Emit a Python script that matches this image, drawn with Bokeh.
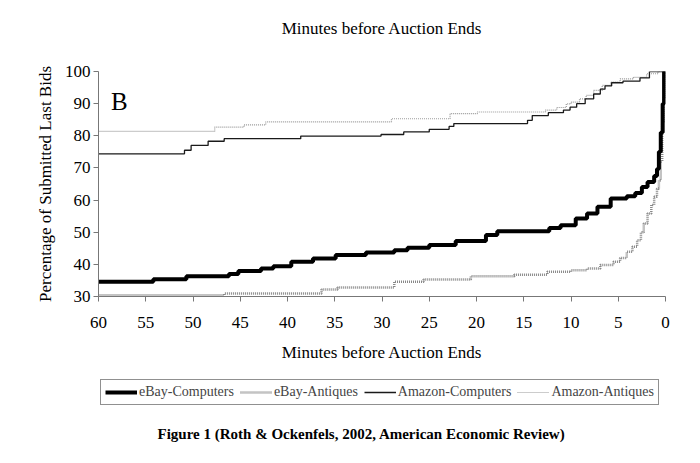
from bokeh.plotting import figure
from bokeh.models import Range1d, Legend, LegendItem, Label, FixedTicker, LinearAxis
from bokeh.layouts import column
from bokeh.embed import file_html
from bokeh.resources import INLINE

# ---- data (minutes before end where a level starts, percentage level) ----
ebay_comp_x = [60, 54.2, 50.7, 46.2, 45.2, 42.8, 41.5, 39.6, 37.3, 34.9, 31.7, 28.7, 27.3, 25.0,
               22.2, 19.0, 17.8, 12.3, 11.1, 9.5, 8.3, 7.2, 5.8, 4.1, 3.2, 2.5, 1.9, 1.2, 0.9,
               0.7, 0.5, 0.3, 0.15, 0]
ebay_comp_y = [34.6, 35.4, 36.3, 37.0, 37.9, 38.7, 39.4, 40.8, 41.8, 42.9, 43.7, 44.4, 45.2, 46.0,
               47.3, 49.1, 50.3, 51.3, 52.2, 54.3, 55.8, 57.9, 60.5, 61.2, 62.2, 64.1, 65.6, 67.5,
               69.7, 75.0, 81.0, 90.0, 100, 100]

ebay_ant_x = [60, 46.7, 36.4, 34.7, 28.7, 25.6, 20.6, 16, 12.5, 10, 8.3, 6.9, 5.5, 4.8, 4.1, 3.5,
              3.0, 2.6, 2.3, 1.9, 1.5, 1.2, 0.9, 0.7, 0.5, 0.35, 0.2, 0.05, 0]
ebay_ant_y = [30.4, 30.9, 32.2, 32.8, 34.6, 35.3, 36.3, 36.8, 37.7, 38.2, 38.7, 39.8, 40.8, 42.0,
              43.9, 45.5, 47.5, 50.0, 52.7, 55.8, 58.5, 61.0, 63.5, 66.1, 72.0, 84.0, 92.0, 98.5, 100]

amz_comp_x = [60, 50.9, 50.2, 48.4, 46.7, 38.6, 30.1, 27.7, 25.0, 22.9, 22.4, 14.6, 14.1, 12.4,
              10.8, 10.1, 9.4, 8.5, 7.6, 6.9, 6.4, 5.7, 4.5, 2.7, 1.7, 0]
amz_comp_y = [74.4, 75.5, 77.0, 78.3, 79.1, 79.9, 80.4, 81.2, 82.0, 82.9, 83.8, 84.8, 86.3, 87.2,
              88.0, 88.9, 90.0, 91.5, 93.0, 94.5, 95.5, 96.5, 97.0, 98.0, 100, 100]

amz_ant_x = [60, 47.7, 44.6, 42.3, 29.0, 22.8, 19.9, 12.7, 11.5, 10.5, 10.0, 9.1, 8.4, 7.6, 6.7,
             5.8, 4.8, 3.4, 2.0, 0.8, 0]
amz_ant_y = [81.4, 82.7, 83.4, 84.3, 85.3, 86.9, 87.4, 88.0, 88.8, 89.9, 90.5, 91.5, 92.6, 94.1,
             95.7, 96.7, 97.7, 98.2, 99.3, 100, 100]

x_ticks = [60, 55, 50, 45, 40, 35, 30, 25, 20, 15, 10, 5, 0]
y_ticks = [30, 40, 50, 60, 70, 80, 90, 100]
series_names = ["eBay-Computers", "eBay-Antiques", "Amazon-Computers", "Amazon-Antiques"]
x_label = "Minutes before Auction Ends"
y_label = "Percentage of Submitted Last Bids"
caption_text = "Figure 1 (Roth & Ockenfels, 2002, American Economic Review)"

series = {
    "eBay-Computers": (ebay_comp_x, ebay_comp_y),
    "eBay-Antiques": (ebay_ant_x, ebay_ant_y),
    "Amazon-Computers": (amz_comp_x, amz_comp_y),
    "Amazon-Antiques": (amz_ant_x, amz_ant_y),
}

SERIF = "Liberation Serif"
styles = {
    "eBay-Computers": dict(line_color="black", line_width=4),
    "eBay-Antiques": dict(line_color="#888888", line_width=2.5, line_dash="1 1"),
    "Amazon-Computers": dict(line_color="#1a1a1a", line_width=1.3),
    "Amazon-Antiques": dict(line_color="#999999", line_width=1.2, line_dash="1 1"),
}
draw_order = ["eBay-Antiques", "Amazon-Antiques", "Amazon-Computers", "eBay-Computers"]

p = figure(width=700, height=372, output_backend="svg", toolbar_location=None,
           x_range=Range1d(60, 0), y_range=Range1d(30, 100),
           min_border_left=98, min_border_right=35, min_border_top=71, min_border_bottom=76)
p.outline_line_color = None
p.grid.visible = False
p.background_fill_color = "white"
p.border_fill_color = "white"

for ax in (p.xaxis[0], p.yaxis[0]):
    ax.axis_line_color = "#777777"
    ax.major_tick_line_color = "#777777"
    ax.minor_tick_line_color = None
    ax.major_tick_in = 0
    ax.major_tick_out = 5
    ax.major_label_text_font = SERIF
    ax.major_label_text_font_size = "17px"
    ax.major_label_text_color = "black"
    ax.axis_label_text_font = SERIF
    ax.axis_label_text_font_size = "17px"
    ax.axis_label_text_font_style = "normal"
    ax.axis_label_text_color = "black"

p.xaxis[0].ticker = FixedTicker(ticks=x_ticks)
p.yaxis[0].ticker = FixedTicker(ticks=y_ticks)
p.xaxis[0].axis_label = x_label
p.yaxis[0].axis_label = y_label
p.xaxis[0].major_label_standoff = 15
p.xaxis[0].axis_label_standoff = 12
p.yaxis[0].major_label_standoff = 3
p.yaxis[0].axis_label_standoff = 7

# top axis carrying only its label (as in the original secondary axis)
top_axis = LinearAxis(ticker=FixedTicker(ticks=[]), axis_label=x_label,
                      axis_line_color=None, major_tick_line_color=None,
                      minor_tick_line_color=None, major_tick_out=0, major_tick_in=0,
                      major_label_standoff=0, axis_label_standoff=34,
                      axis_label_text_font=SERIF, axis_label_text_font_size="17px",
                      axis_label_text_font_style="normal", axis_label_text_color="black")
p.add_layout(top_axis, "above")

for name in draw_order:
    xs, ys = series[name]
    p.step(xs, ys, mode="after", **styles[name])

p.add_layout(Label(x=12.5, y=195.5, x_units="screen", y_units="screen", text="B",
                   text_font=SERIF, text_font_size="25px", text_color="black",
                   text_baseline="alphabetic"))

# ---- bottom strip: legend box and caption (series lie outside its visible range) ----
q = figure(width=700, height=91, output_backend="svg", toolbar_location=None,
           x_range=Range1d(60, 0), y_range=Range1d(0, 1), x_axis_type=None, y_axis_type=None,
           min_border_left=0, min_border_right=0, min_border_top=0, min_border_bottom=0)
q.outline_line_color = None
q.grid.visible = False

items = []
for name in series_names:
    xs, ys = series[name]
    r = q.step(xs, ys, mode="after", **styles[name])
    items.append(LegendItem(label=name, renderers=[r]))

legend = Legend(items=items, orientation="horizontal", location=(2, 58),
                border_line_color="#222222", border_line_width=1,
                label_text_font=SERIF, label_text_font_size="14px",
                glyph_width=32, glyph_height=16, label_standoff=2, spacing=6,
                padding=4, margin=0, background_fill_alpha=0)
q.add_layout(legend, "center")

q.add_layout(Label(x=263, y=30, x_units="screen", y_units="screen", text=caption_text,
                   text_font=SERIF, text_font_size="15px", text_font_style="bold",
                   text_color="black", text_align="center", text_baseline="alphabetic"))

open("out.html", "w").write(file_html(column(p, q, spacing=0), INLINE))
